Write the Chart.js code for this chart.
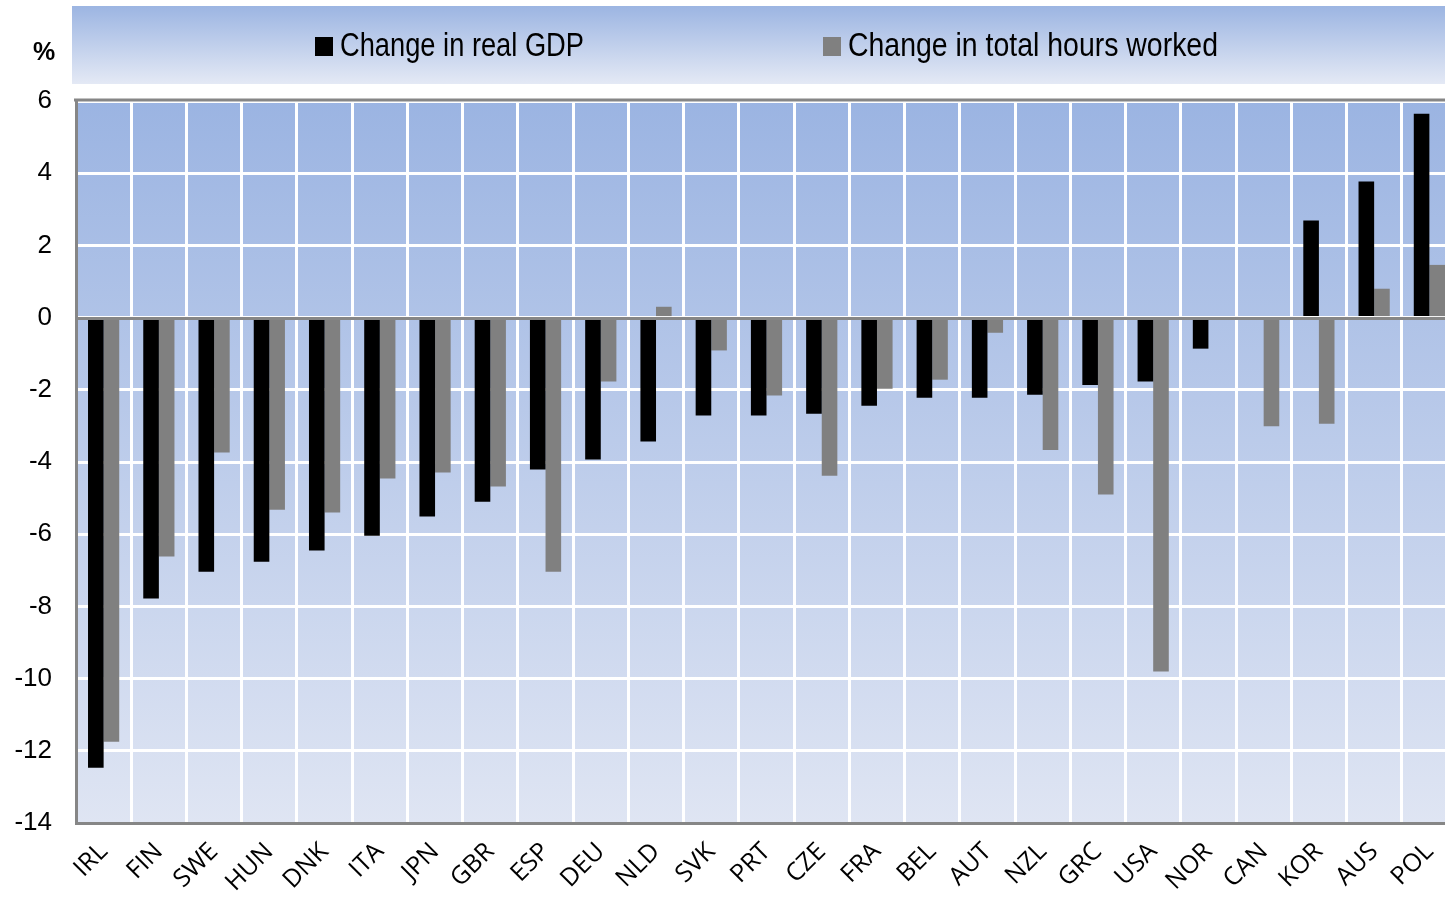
<!DOCTYPE html>
<html>
<head>
<meta charset="utf-8">
<script src="https://cdn.jsdelivr.net/npm/chart.js@4.4.1/dist/chart.umd.min.js"></script>
<style>
html,body{margin:0;padding:0;background:#fff;overflow:hidden;width:1445px;height:897px;}
#c{display:block;}
</style>
</head>
<body>
<canvas id="c" width="1457" height="897"></canvas>
<script>
const categories = ['IRL','FIN','SWE','HUN','DNK','ITA','JPN','GBR','ESP','DEU','NLD','SVK','PRT','CZE','FRA','BEL','AUT','NZL','GRC','USA','NOR','CAN','KOR','AUS','POL'];
const gdpChange = [-12.47,-7.78,-7.04,-6.76,-6.45,-6.04,-5.51,-5.1,-4.21,-3.93,-3.43,-2.71,-2.71,-2.66,-2.44,-2.22,-2.22,-2.14,-1.87,-1.77,-0.86,0,2.69,3.77,5.65];
const hoursChange = [-11.75,-6.62,-3.74,-5.32,-5.4,-4.46,-4.29,-4.68,-7.04,-1.77,0.3,-0.91,-2.16,-4.38,-1.97,-1.72,-0.42,-3.67,-4.9,-9.8,0,-3.01,-2.94,0.8,1.46];
const seriesNames = ['Change in real GDP','Change in total hours worked'];
const seriesColors = ['#000000','#808080'];
const yMin = -14, yMax = 6, yStep = 2;
const unitLabel = '%';

const decor = {
  id: 'decor',
  beforeDraw(chart) {
    const {ctx, chartArea: a} = chart;
    ctx.save();
    let g = ctx.createLinearGradient(0, 6, 0, 84);
    g.addColorStop(0, '#9cb5e2');
    g.addColorStop(1, '#e4e9f5');
    ctx.fillStyle = g;
    ctx.fillRect(72, 6, chart.width - 72, 78);
    g = ctx.createLinearGradient(0, a.top, 0, a.bottom);
    g.addColorStop(0, '#9bb4e2');
    g.addColorStop(1, '#dfe5f3');
    ctx.fillStyle = g;
    ctx.fillRect(a.left, a.top, a.right - a.left, a.bottom - a.top);
    const items = [{x: 315, w: 244}, {x: 823, w: 370}];
    ctx.textBaseline = 'alphabetic';
    ctx.textAlign = 'left';
    items.forEach((it, i) => {
      ctx.fillStyle = seriesColors[i];
      ctx.fillRect(it.x, 37, 18, 19);
      ctx.fillStyle = '#000';
      ctx.font = '33px "Liberation Sans Narrow", "Arial Narrow", "Liberation Sans", sans-serif';
      const tw = ctx.measureText(seriesNames[i]).width;
      ctx.save();
      ctx.translate(it.x + 25, 56);
      ctx.scale(it.w / tw, 1);
      ctx.fillText(seriesNames[i], 0, 0);
      ctx.restore();
    });
    ctx.font = 'bold 25px "Liberation Sans", Arial, sans-serif';
    ctx.textAlign = 'center';
    ctx.fillStyle = '#000';
    ctx.fillText(unitLabel, 44, 60);
    ctx.restore();
  },
  afterDatasetsDraw(chart) {
    const {ctx, chartArea: a, scales} = chart;
    ctx.save();
    ctx.strokeStyle = '#868686';
    ctx.lineWidth = 3;
    const y0 = scales.y.getPixelForValue(0);
    ctx.beginPath();
    ctx.moveTo(a.left, y0 + 1);
    ctx.lineTo(a.right, y0 + 1);
    ctx.stroke();
    ctx.beginPath();
    ctx.moveTo(a.left - 2, a.top - 1);
    ctx.lineTo(a.right, a.top - 1);
    ctx.stroke();
    ctx.restore();
  }
};

new Chart(document.getElementById('c'), {
  type: 'bar',
  data: {
    labels: categories,
    datasets: [
      {label: seriesNames[0], data: gdpChange, backgroundColor: seriesColors[0], borderWidth: 0},
      {label: seriesNames[1], data: hoursChange, backgroundColor: seriesColors[1], borderWidth: 0}
    ]
  },
  options: {
    responsive: false,
    animation: false,
    devicePixelRatio: 1,
    layout: {padding: {top: 101, left: 0, right: 0, bottom: 0}},
    plugins: {legend: {display: false}, tooltip: {enabled: false}},
    datasets: {bar: {categoryPercentage: 0.565, barPercentage: 1.0}},
    scales: {
      x: {
        grid: {color: '#ffffff', lineWidth: 3, drawTicks: false, offset: true},
        border: {display: true, color: '#868686', width: 3},
        ticks: {
          color: '#000',
          font: {family: '"Open Sans", "Noto Sans", sans-serif', size: 25},
          minRotation: 45, maxRotation: 45, padding: 14, autoSkip: false
        },
        afterFit(s) { s.height = 74; s.paddingRight = 0; s.paddingLeft = 0; }
      },
      y: {
        min: yMin, max: yMax,
        grid: {color: '#ffffff', lineWidth: 3, drawTicks: false},
        border: {display: true, color: '#868686', width: 3},
        ticks: {
          stepSize: yStep,
          color: '#000',
          font: {family: '"Liberation Sans", Arial, sans-serif', size: 26},
          padding: 24
        },
        afterFit(s) { s.width = 76; s.paddingTop = 0; s.paddingBottom = 0; }
      }
    }
  },
  plugins: [decor]
});
</script>
</body>
</html>
